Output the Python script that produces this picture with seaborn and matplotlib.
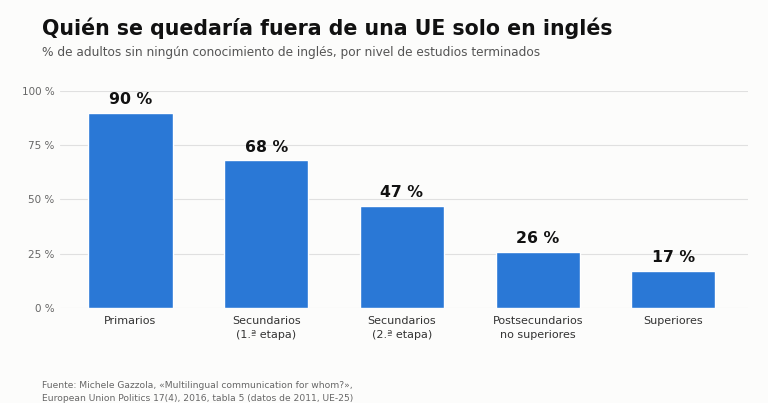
import matplotlib
matplotlib.use("Agg")
import matplotlib.pyplot as plt
import seaborn as sns
import pandas as pd

# Data
niveles = ["Primarios", "Secundarios\n(1.ª etapa)", "Secundarios\n(2.ª etapa)",
           "Postsecundarios\nno superiores", "Superiores"]
sin_ingles = [90, 68, 47, 26, 17]
y_ticks = [0, 25, 50, 75, 100]

df = pd.DataFrame({"nivel": niveles, "pct": sin_ingles})

bg = "#fcfcfb"
blue = "#2a78d6"

sns.set_theme(style="white")
plt.rcParams["font.family"] = ["DejaVu Sans"]

fig = plt.figure(figsize=(7.68, 4.03), dpi=100, facecolor=bg)
ax = fig.add_axes([0.078, 0.236, 0.896, 0.538], facecolor=bg)

sns.barplot(data=df, x="nivel", y="pct", color=blue, width=0.62,
            saturation=1, ax=ax, zorder=3)

for c in ax.containers:
    ax.bar_label(c, labels=[f"{v} %" for v in sin_ingles], padding=4,
                 fontsize=11.3, fontweight="bold", color="#111111")

ax.set_ylim(0, 100)
ax.set_xlim(-0.52, 4.55)
ax.set_yticks(y_ticks)
ax.set_yticklabels([f"{t} %" for t in y_ticks])
ax.yaxis.grid(True, color="#e0e0e0", linewidth=0.8, zorder=0)
ax.tick_params(axis="y", length=0, labelsize=7.5, labelcolor="#666666", pad=4)
ax.tick_params(axis="x", length=0, labelsize=8, labelcolor="#333333", pad=6)
for lbl in ax.get_xticklabels():
    lbl.set_linespacing(1.45)
ax.set_xlabel("")
ax.set_ylabel("")
sns.despine(ax=ax, left=True, bottom=True)

fig.text(0.055, 0.93, "Quién se quedaría fuera de una UE solo en inglés",
         fontsize=14.8, fontweight="bold", color="#111111", va="center")
fig.text(0.055, 0.87, "% de adultos sin ningún conocimiento de inglés, por nivel de estudios terminados",
         fontsize=8.7, color="#555555", va="center")
fig.text(0.055, 0.0,
         "Fuente: Michele Gazzola, «Multilingual communication for whom?»,\n"
         "European Union Politics 17(4), 2016, tabla 5 (datos de 2011, UE-25)",
         fontsize=6.6, color="#666666", va="bottom", linespacing=1.55)

fig.savefig("out.png", dpi=100, facecolor=bg)
